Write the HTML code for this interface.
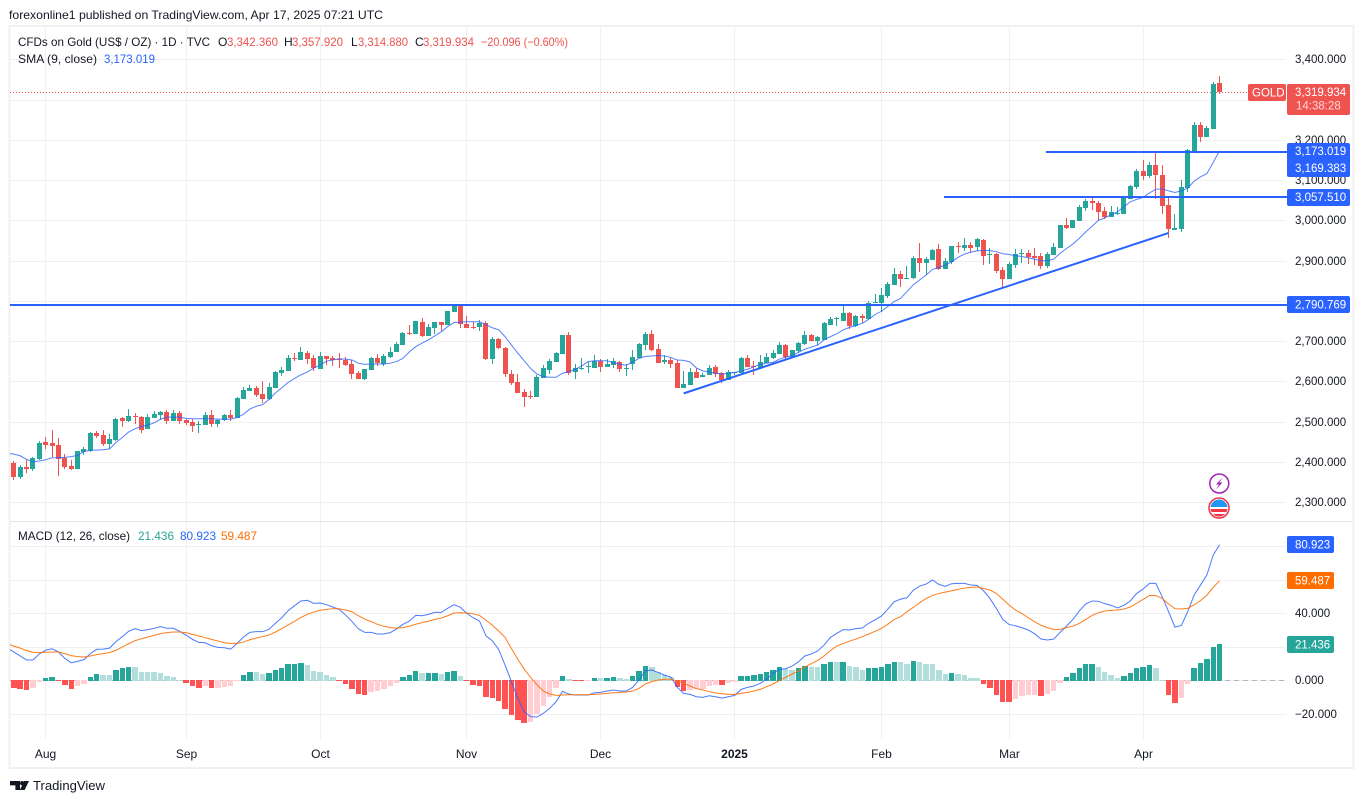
<!DOCTYPE html>
<html lang="en">
<head>
<meta charset="utf-8">
<title>CFDs on Gold chart</title>
<style>
html,body{margin:0;padding:0;background:#fff;width:1364px;height:803px;overflow:hidden}
svg{display:block}
text{font-family:"Liberation Sans",sans-serif;font-size:12px;fill:#131722}
.ax{font-size:11.5px}
.lbl{font-size:11.5px;fill:#fff}
</style>
</head>
<body>
<svg id="chart" xmlns="http://www.w3.org/2000/svg" width="1364" height="803" viewBox="0 0 1364 803">
  <defs>
    <clipPath id="pane-clip"><rect x="10" y="27" width="1277" height="712"/></clipPath>
    <clipPath id="flag-clip"><circle cx="1219" cy="508" r="8.5"/></clipPath>
  </defs>
  <rect x="0" y="0" width="1364" height="803" fill="#fff"/>
  <text x="9" y="19" textLength="374" lengthAdjust="spacingAndGlyphs">forexonline1 published on TradingView.com, Apr 17, 2025 07:21 UTC</text>
  <rect x="9.5" y="26" width="1344" height="742" fill="none" stroke="#f1f1f3" stroke-width="2"/>
  <g id="grid"></g>
  <line x1="10" x2="1353" y1="521.5" y2="521.5" stroke="#e0e3eb" stroke-width="1"/>
  <g id="axis-labels"></g>
  <g clip-path="url(#pane-clip)">
    <line x1="10" x2="1285" y1="680.5" y2="680.5" stroke="#b2b5be" stroke-width="1" stroke-dasharray="5 4"/>
    <g id="histogram" shape-rendering="crispEdges"></g>
    <path id="macd-line" fill="none" stroke="#2962ff" stroke-opacity="0.85" stroke-width="1"/>
    <path id="signal-line" fill="none" stroke="#ff6d00" stroke-opacity="0.9" stroke-width="1"/>
    <line id="last-price-line" x1="10" x2="1248" stroke="#ef5350" stroke-width="1" stroke-dasharray="1 2"/>
    <g id="candles" shape-rendering="crispEdges"></g>
    <path id="sma-line" fill="none" stroke="#2962ff" stroke-opacity="0.8" stroke-width="1"/>
    <g id="drawings"></g>
  </g>

  <text x="18" y="46" textLength="192" lengthAdjust="spacingAndGlyphs">CFDs on Gold (US$ / OZ) · 1D · TVC</text>
  <g>
    <text x="218" y="46">O</text>
    <text x="227" y="46" textLength="51" lengthAdjust="spacingAndGlyphs" style="fill:#ef5350">3,342.360</text>
    <text x="284" y="46">H</text>
    <text x="292" y="46" textLength="51" lengthAdjust="spacingAndGlyphs" style="fill:#ef5350">3,357.920</text>
    <text x="351" y="46">L</text>
    <text x="358" y="46" textLength="50" lengthAdjust="spacingAndGlyphs" style="fill:#ef5350">3,314.880</text>
    <text x="415" y="46">C</text>
    <text x="423" y="46" textLength="51" lengthAdjust="spacingAndGlyphs" style="fill:#ef5350">3,319.934</text>
    <text x="481" y="46" textLength="87" lengthAdjust="spacingAndGlyphs" style="fill:#ef5350">−20.096 (−0.60%)</text>
  </g>
  <text x="18" y="63" textLength="79" lengthAdjust="spacingAndGlyphs">SMA (9, close)</text>
  <text x="104" y="63" textLength="51" lengthAdjust="spacingAndGlyphs" style="fill:#2962ff">3,173.019</text>
  <text x="18" y="540" textLength="112" lengthAdjust="spacingAndGlyphs">MACD (12, 26, close)</text>
  <text x="138" y="540" textLength="36" lengthAdjust="spacingAndGlyphs" style="fill:#26a69a">21.436</text>
  <text x="180" y="540" textLength="36" lengthAdjust="spacingAndGlyphs" style="fill:#2962ff">80.923</text>
  <text x="221" y="540" textLength="36" lengthAdjust="spacingAndGlyphs" style="fill:#ff6d00">59.487</text>

  <g>
    <rect x="1248" y="84" width="38" height="17" rx="2" fill="#ef5350"/>
    <text class="lbl" x="1252" y="96.5">GOLD</text>
  </g>
  <g>
    <rect x="1287" y="84" width="63" height="31" rx="2" fill="#ef5350"/>
    <text class="lbl" x="1295" y="96">3,319.934</text>
    <text class="lbl" x="1296" y="109.5" style="fill:#ffd6d5">14:38:28</text>
  </g>
  <g>
    <rect x="1287" y="143" width="63" height="34" rx="2" fill="#2962ff"/>
    <text class="lbl" x="1295" y="155">3,173.019</text>
    <text class="lbl" x="1295" y="172">3,169.383</text>
    <rect x="1287" y="189" width="63" height="17" rx="2" fill="#2962ff"/>
    <text class="lbl" x="1295" y="201">3,057.510</text>
    <rect x="1287" y="296" width="63" height="17" rx="2" fill="#2962ff"/>
    <text class="lbl" x="1295" y="308.5">2,790.769</text>
  </g>
  <g>
    <rect x="1287" y="536" width="47" height="17" rx="2" fill="#2962ff"/>
    <text class="lbl" x="1295" y="548.5">80.923</text>
    <rect x="1287" y="572" width="47" height="17" rx="2" fill="#ff6d00"/>
    <text class="lbl" x="1295" y="584.5">59.487</text>
    <rect x="1287" y="636" width="47" height="17" rx="2" fill="#26a69a"/>
    <text class="lbl" x="1295" y="648.5">21.436</text>
  </g>

  <g>
    <circle cx="1219.3" cy="483.5" r="9.5" fill="#fff" stroke="#9c27b0" stroke-width="1.5"/>
    <polygon points="1222.5,477.5 1216,484.5 1219,484.5 1216,489.5 1222.5,482.5 1219.5,482.5" fill="#9c27b0"/>
  </g>
  <g>
    <circle cx="1219" cy="508" r="10" fill="#fff" stroke="#f23645" stroke-width="1.5"/>
    <g clip-path="url(#flag-clip)">
      <rect x="1210" y="499" width="18" height="8" fill="#2196f3"/>
      <rect x="1210" y="509" width="18" height="3" fill="#f23645"/>
      <rect x="1210" y="514" width="18" height="3" fill="#f23645"/>
    </g>
  </g>

  <g>
    <path d="M10 781h10v9h-4.6v-4.6H10z" fill="#131722"/>
    <circle cx="22.2" cy="783.2" r="2.2" fill="#131722"/>
    <polygon points="29,781 24.6,790 19.8,790 24.2,781" fill="#131722"/>
    <text x="33" y="790" textLength="72" lengthAdjust="spacingAndGlyphs" style="font-size:13px">TradingView</text>
  </g>
</svg>

<script>
const opens = [
2397,2363,2387,2382,2407,2449,2447,2442,2410,2390,
2382,2424,2427,2472,2467,2444,2454,2509,2501,2514,
2511,2482,2509,2516,2524,2501,2521,2504,2499,2492,
2491,2516,2494,2504,2516,2509,2556,2576,2583,2568,
2556,2583,2621,2626,2658,2653,2670,2658,2631,2663,
2658,2655,2653,2643,2621,2606,2628,2658,2643,2660,
2673,2690,2720,2718,2748,2713,2733,2748,2740,2772,
2790,2743,2735,2735,2745,2656,2705,2683,2618,2598,
2574,2564,2561,2608,2628,2648,2668,2715,2623,2631,
2636,2633,2651,2636,2641,2648,2632,2643,2658,2690,
2718,2680,2648,2653,2646,2584,2591,2623,2611,2616,
2636,2621,2604,2621,2621,2658,2638,2633,2646,2658,
2668,2690,2661,2676,2693,2715,2700,2703,2740,2756,
2750,2770,2738,2763,2755,2796,2795,2812,2840,2867,
2854,2857,2907,2894,2902,2929,2879,2897,2936,2931,
2939,2934,2951,2914,2917,2876,2854,2889,2916,2918,
2911,2911,2886,2913,2931,2988,2981,2998,3030,3048,
3043,3023,3008,3016,3015,3053,3082,3122,3110,3137,
3112,3038,2977,2978,3080,3172,3236,3207,3226,3342.36];
const highs = [
2402,2392,2405,2412,2452,2462,2479,2459,2419,2405,
2427,2437,2474,2477,2479,2469,2509,2511,2531,2521,
2514,2519,2526,2526,2529,2529,2526,2506,2506,2501,
2524,2529,2506,2519,2529,2561,2586,2591,2588,2601,
2596,2626,2636,2665,2670,2685,2675,2665,2673,2663,
2663,2670,2660,2653,2626,2631,2660,2668,2668,2685,
2698,2723,2740,2750,2757,2743,2748,2748,2775,2792,
2790,2762,2748,2752,2750,2710,2708,2685,2628,2618,
2581,2576,2616,2641,2656,2673,2715,2723,2643,2658,
2648,2665,2656,2656,2658,2651,2643,2678,2695,2723,
2728,2693,2665,2658,2653,2626,2633,2633,2621,2641,
2641,2623,2628,2623,2661,2666,2651,2666,2671,2678,
2698,2693,2678,2698,2725,2718,2713,2748,2760,2760,
2787,2772,2765,2768,2800,2817,2832,2847,2882,2874,
2887,2912,2944,2909,2929,2941,2907,2936,2946,2956,
2946,2956,2954,2931,2919,2884,2896,2928,2928,2926,
2931,2918,2921,2943,2988,3005,3000,3038,3053,3058,
3048,3033,3035,3033,3058,3087,3127,3149,3144,3167,
3137,3055,3015,3100,3177,3244,3244,3234,3343,3357.92];
const lows = [
2356,2358,2371,2377,2405,2432,2412,2365,2382,2380,
2382,2417,2424,2459,2439,2432,2452,2487,2499,2494,
2472,2482,2509,2504,2494,2501,2494,2491,2474,2472,
2491,2487,2487,2501,2501,2509,2556,2576,2561,2546,
2554,2583,2613,2626,2650,2653,2643,2626,2631,2640,
2638,2633,2638,2606,2606,2603,2628,2638,2638,2658,
2673,2690,2715,2718,2710,2713,2718,2725,2740,2772,
2733,2733,2730,2725,2653,2643,2680,2611,2591,2571,
2536,2556,2561,2608,2618,2648,2668,2616,2606,2628,
2621,2633,2623,2636,2633,2623,2613,2628,2658,2678,
2675,2646,2643,2633,2584,2584,2591,2608,2611,2616,
2611,2596,2604,2616,2621,2636,2616,2633,2646,2656,
2668,2656,2661,2671,2690,2700,2690,2703,2740,2738,
2750,2730,2735,2745,2755,2795,2772,2807,2840,2835,
2854,2854,2872,2864,2902,2877,2879,2892,2919,2924,
2919,2924,2889,2892,2869,2831,2854,2881,2894,2891,
2889,2879,2881,2913,2931,2978,2981,2998,3023,3025,
2998,3003,3008,3013,3015,3053,3077,3100,3105,3053,
3015,2956,2976,2971,3070,3172,3194,3207,3226,3314.88];
const closes = [
2363,2387,2382,2410,2447,2442,2439,2407,2387,2382,
2427,2432,2472,2464,2444,2457,2506,2501,2514,2511,
2479,2511,2519,2524,2501,2521,2501,2496,2489,2494,
2516,2494,2504,2516,2509,2559,2578,2583,2566,2556,
2586,2623,2628,2658,2655,2673,2655,2633,2663,2655,
2654,2654,2640,2618,2606,2631,2658,2645,2663,2673,
2693,2720,2718,2750,2713,2735,2748,2740,2775,2790,
2743,2733,2733,2745,2656,2705,2683,2618,2596,2571,
2561,2561,2611,2633,2651,2670,2715,2621,2633,2633,
2638,2651,2636,2643,2651,2631,2633,2660,2693,2718,
2678,2646,2653,2643,2584,2593,2623,2608,2616,2633,
2618,2604,2623,2623,2658,2636,2637,2648,2661,2671,
2690,2661,2678,2695,2715,2700,2710,2745,2755,2758,
2770,2738,2763,2758,2795,2797,2815,2842,2867,2854,
2857,2907,2894,2904,2926,2879,2899,2936,2934,2939,
2931,2954,2912,2917,2874,2854,2891,2916,2918,2908,
2906,2886,2916,2933,2988,2981,3000,3033,3048,3043,
3020,3008,3020,3018,3055,3085,3122,3110,3137,3112,
3035,2978,2980,3082,3174,3236,3207,3229,3338,3319.934];

// Line series begin one bar before the first visible candle (bar index -1).
const smaValues = [2421,
2419,2415,2406,2400,2402,2405,2410,2410,2411,2413,
2416,2426,2429,2429,2430,2432,2448,2460,2474,2482,
2488,2491,2497,2506,2511,2511,2511,2508,2507,2507,
2507,2507,2506,2506,2506,2510,2518,2531,2538,2542,
2555,2571,2584,2597,2607,2616,2623,2633,2640,2650,
2653,2656,2655,2653,2645,2642,2643,2643,2643,2645,
2649,2657,2673,2686,2695,2703,2713,2723,2736,2746,
2747,2748,2748,2748,2741,2733,2728,2711,2690,2670,
2651,2632,2618,2612,2610,2610,2620,2624,2630,2638,
2649,2651,2651,2651,2646,2642,2640,2648,2657,2662,
2663,2664,2663,2659,2653,2652,2648,2633,2626,2623,
2620,2618,2620,2622,2626,2630,2636,2642,2645,2647,
2655,2660,2664,2672,2680,2685,2690,2703,2711,2718,
2728,2734,2739,2744,2754,2766,2774,2786,2798,2806,
2823,2840,2852,2864,2878,2883,2889,2897,2908,2916,
2921,2924,2925,2925,2922,2917,2915,2912,2910,2907,
2903,2900,2899,2904,2918,2930,2941,2955,2971,2985,
3000,3006,3014,3021,3034,3046,3052,3057,3068,3077,
3078,3073,3069,3073,3080,3097,3108,3116,3144,3173.019];
const macdValues = [19.2,
16.9,14.5,12.1,12.1,15.7,18.0,18.8,16.9,13.1,10.5,
11.3,12.3,15.9,18.5,18.6,19.2,23.0,26.0,29.2,30.8,
29.6,30.2,31.0,32.0,31.0,31.0,29.2,27.0,24.4,22.6,
22.4,20.6,19.6,19.4,18.6,22.0,25.8,28.6,29.0,29.0,
30.4,34.0,37.3,41.5,44.5,47.3,47.7,45.9,46.1,45.1,
43.7,42.3,38.9,35.1,30.8,28.6,28.6,27.6,27.6,28.4,
30.6,33.4,35.3,38.7,38.5,39.3,40.5,40.5,42.9,45.1,
43.5,39.9,37.3,35.3,26.6,23.6,18.4,9.1,-0.8,-10.8,
-18.7,-21.7,-21.9,-19.7,-16.7,-12.8,-6.6,-8.2,-8.8,-8.8,
-8.8,-7.4,-7.2,-6.4,-5.8,-6.4,-6.4,-4.2,0.2,5.7,
6.1,4.7,3.1,1.9,-4.2,-7.8,-8.4,-9.8,-10.2,-9.2,
-9.8,-10.6,-9.8,-9.0,-5.4,-4.2,-3.4,-1.8,0.6,4.2,
6.5,6.9,8.5,11.1,14.5,15.7,17.5,21.0,25.6,28.0,
30.2,30.0,30.8,31.2,34.0,36.1,38.3,42.5,46.9,48.4,
49.2,53.8,56.2,57.4,59.8,57.2,56.0,57.6,57.8,57.8,
56.8,56.6,53.4,48.8,42.9,36.3,33.3,32.5,31.4,30.0,
27.8,24.6,24.0,24.6,28.6,32.3,36.3,41.3,45.5,47.3,
47.1,45.7,44.7,43.1,44.7,47.3,51.8,54.4,57.8,57.8,
49.8,40.9,31.7,32.7,40.9,50.8,56.8,62.8,74.7,80.923];
const signalValues = [21.8,
20.4,19.2,17.7,16.7,16.5,16.7,16.9,16.9,15.9,14.7,
14.1,13.9,14.5,15.3,15.9,16.5,17.9,19.8,21.8,23.6,
24.8,25.8,26.8,27.8,28.4,28.8,28.8,28.4,27.4,26.4,
25.4,24.4,23.4,22.4,22.0,22.0,22.8,24.2,25.2,26.0,
27.0,28.8,30.8,33.0,35.1,37.5,39.3,40.7,41.7,42.3,
42.7,42.7,41.9,40.9,38.5,36.5,35.0,33.4,32.2,31.4,
31.2,31.4,32.2,33.4,34.4,35.3,36.3,37.1,38.5,40.1,
40.3,40.1,39.7,38.7,35.9,32.8,29.4,25.6,19.0,12.5,
6.7,1.7,-2.6,-6.4,-8.2,-9.0,-8.8,-8.6,-8.6,-8.6,
-8.6,-8.4,-8.2,-7.8,-7.4,-7.2,-7.0,-6.4,-4.8,-2.2,
-0.8,0.2,0.6,0.6,-0.4,-1.8,-3.4,-5.0,-5.8,-6.8,
-7.6,-8.0,-8.4,-8.4,-7.8,-7.2,-6.4,-5.4,-3.8,-2.2,
-0.2,1.8,3.7,5.7,7.9,9.9,11.9,14.5,17.7,20.4,
22.0,23.4,24.6,26.0,27.6,29.2,31.0,33.4,36.3,37.9,
40.9,43.5,46.3,48.8,50.6,51.8,52.6,53.4,54.2,55.0,
55.4,55.6,54.8,53.8,51.8,48.4,44.9,41.9,39.9,37.3,
34.9,32.9,31.4,30.4,30.4,31.4,32.3,33.9,36.3,38.7,
40.3,41.3,41.7,41.9,42.5,43.7,45.9,48.2,50.6,50.6,
48.8,45.5,42.7,42.5,42.9,44.9,47.5,50.8,55.4,59.487];
const histValues = [
-4.6,-5.2,-5.8,-4.6,-1.0,1.4,2.0,-0.4,-2.8,-5.2,
-3.4,-2.2,2.0,3.8,3.2,3.1,6.2,7.4,8.0,7.9,
5.0,4.9,4.8,4.4,2.6,2.0,0.2,-1.6,-3.4,-4.6,
-3.4,-4.6,-4.5,-4.0,-3.4,-0.6,3.2,5.0,4.9,3.8,
4.4,6.2,7.4,9.8,9.9,10.4,9.2,5.6,5.0,3.2,
2.0,-0.4,-2.2,-5.2,-8.2,-8.8,-7.0,-6.4,-5.2,-3.4,
-1.6,2.0,3.2,5.6,4.4,4.5,4.6,3.8,5.0,5.6,
2.6,-0.4,-2.8,-3.4,-10.0,-10.6,-12.4,-17.2,-20.8,-23.8,
-25.6,-25.0,-20.2,-15.4,-10.0,-4.6,2.6,0.8,-0.4,-0.5,
-0.4,1.4,1.3,1.4,2.0,1.4,0.8,2.6,5.6,8.6,
8.0,5.0,3.2,2.0,-4.0,-6.4,-5.8,-5.2,-5.0,-3.4,
-2.8,-3.0,-1.6,-1.0,2.6,2.7,3.2,3.8,5.0,6.2,
8.0,6.8,6.2,7.4,8.6,8.0,7.9,9.8,11.0,10.9,
11.0,8.6,8.0,6.2,7.4,7.5,8.0,9.8,11.0,10.9,
9.7,11.5,10.9,9.7,9.6,6.2,3.8,4.4,3.8,3.2,
1.4,1.3,-2.2,-4.6,-8.7,-12.9,-13.0,-11.1,-9.3,-8.7,
-8.6,-9.3,-8.2,-6.4,-1.6,2.0,4.4,7.4,9.7,9.8,
8.0,5.0,3.2,1.4,2.6,4.4,7.4,8.0,9.1,7.4,
0.2,-8.7,-13.5,-10.5,-2.2,7.4,10.3,12.7,19.9,21.436];

const priceTicks = [3400,3300,3200,3100,3000,2900,2800,2700,2600,2500,2400,2300];
const macdTicks = [80,60,40,20,0,-20];
const monthLabels = ["Aug","Sep","Oct","Nov","Dec","2025","Feb","Mar","Apr"];
const monthBars = [5,27,48,71,92,113,136,156,177];
const levelPrices = [2790.769,3169.383,3057.51];
const levelStartBars = [-3,161.8,145.8];
const trendBars = [105,181];
const trendPrices = [2570,2968.5];
const lastPrice = 3319.934;

const NS = "http://www.w3.org/2000/svg";
const xScale = i => 13.8 + 6.38 * i;
const priceY = p => 59.3 + (3400 - p) * 0.4025;
const macdY = v => 680.3 - v * 1.677;
const make = (tag, attrs) => {
  const el = document.createElementNS(NS, tag);
  for (const k in attrs) el.setAttribute(k, attrs[k]);
  return el;
};
const fmt = v => {
  const s = Math.abs(v).toFixed(3).replace(/\B(?=(\d{3})+(?!\d))(?=.*\.)/g, ",");
  return (v < 0 ? "\u2212" : "") + s;
};

const grid = document.getElementById("grid");
const labels = document.getElementById("axis-labels");
const gridColor = "#f0f0f2";

priceTicks.forEach(p => {
  const y = Math.round(priceY(p)) + 0.5;
  const g = make("line", {x1: 10, x2: 1286, y1: y, y2: y, stroke: gridColor, "stroke-width": 1});
  
  
  grid.appendChild(g);
  const t = make("text", {x: 1295, y: y + 3.5, class: "ax"});
  
  
  t.textContent = fmt(p);
  labels.appendChild(t);
});
macdTicks.forEach(v => {
  const y = Math.round(macdY(v)) + 0.5;
  const g = make("line", {x1: 10, x2: 1286, y1: y, y2: y, stroke: gridColor, "stroke-width": 1});
  
  
  grid.appendChild(g);
  const t = make("text", {x: 1295, y: y + 3.5, class: "ax"});
  
  
  t.textContent = fmt(v);
  labels.appendChild(t);
});
monthLabels.forEach((m, i) => {
  const x = Math.round(xScale(monthBars[i]) - 0.5) + 0.5;
  const g = make("line", {x1: x, x2: x, y1: 27, y2: 739, stroke: gridColor, "stroke-width": 1});
  
  
  grid.appendChild(g);
  const t = make("text", {x: x, y: 758, "text-anchor": "middle"});
  
  
  if (m === "2025") t.setAttribute("font-weight", "bold");
  t.textContent = m;
  labels.appendChild(t);
});

const lastLine = document.getElementById("last-price-line");
lastLine.setAttribute("y1", Math.round(priceY(lastPrice)) + 0.5);
lastLine.setAttribute("y2", Math.round(priceY(lastPrice)) + 0.5);

const candleLayer = document.getElementById("candles");
closes.forEach((c, i) => {
  const o = opens[i], h = highs[i], l = lows[i];
  const color = c >= o ? "#26a69a" : "#ef5350";
  const wx = Math.round(xScale(i) - 0.5);
  const top = Math.round(priceY(Math.max(o, c)));
  const bot = Math.round(priceY(Math.min(o, c)));
  const g = make("g", {});
  
  
  const wick = make("rect", {x: wx, y: Math.round(priceY(h)), width: 1, height: Math.max(1, Math.round(priceY(l)) - Math.round(priceY(h))), fill: color});
  
  
  const body = make("rect", {x: wx - 2, y: top, width: 5, height: Math.max(1, bot - top), fill: color});
  
  
  g.appendChild(wick);
  g.appendChild(body);
  candleLayer.appendChild(g);
});

const histLayer = document.getElementById("histogram");
histValues.forEach((v, i) => {
  const prev = i > 0 ? histValues[i - 1] : 0;
  let color;
  if (v >= 0) color = v >= prev ? "#26a69a" : "#b2dfdb";
  else color = v < prev ? "#ff5252" : "#ffcdd2";
  const left = Math.round(xScale(i) - 2.7);
  const right = Math.round(xScale(i) + 2.7);
  const y0 = Math.round(macdY(0));
  const y1 = Math.round(macdY(v));
  const r = make("rect", {x: left, y: v >= 0 ? y1 : y0, width: right - left, height: Math.max(1, v >= 0 ? y0 - y1 + 1 : y1 - y0), fill: color});
  
  
  histLayer.appendChild(r);
});

const pathFrom = (values, yFn) => values.map((v, k) => (k ? "L" : "M") + xScale(k - 1).toFixed(2) + " " + yFn(v).toFixed(2)).join("");
document.getElementById("sma-line").setAttribute("d", pathFrom(smaValues, priceY));
document.getElementById("macd-line").setAttribute("d", pathFrom(macdValues, macdY));
document.getElementById("signal-line").setAttribute("d", pathFrom(signalValues, macdY));

const drawings = document.getElementById("drawings");
levelPrices.forEach((p, i) => {
  const yLevel = Math.round(priceY(p));
  const ln = make("line", {x1: xScale(levelStartBars[i]), x2: 1287, y1: yLevel, y2: yLevel, stroke: "#2962ff", "stroke-width": 2, "shape-rendering": "crispEdges"});
  
  
  drawings.appendChild(ln);
});
const trend = make("line", {x1: xScale(trendBars[0]), x2: xScale(trendBars[1]), y1: priceY(trendPrices[0]), y2: priceY(trendPrices[1]), stroke: "#2962ff", "stroke-width": 2});


drawings.appendChild(trend);
</script>
</body>
</html>
